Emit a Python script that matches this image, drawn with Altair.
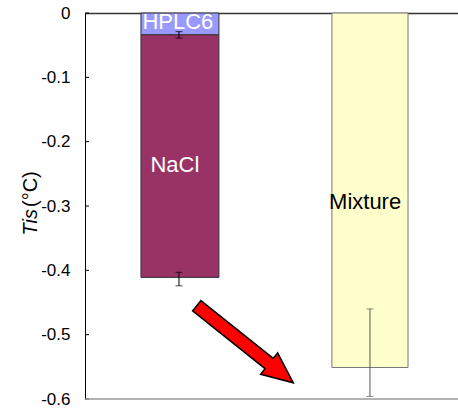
import altair as alt
import pandas as pd

FONT = "Liberation Sans"

# stacked bar segments (x in a 0..1 linear position scale)
segments = ["HPLC6", "NaCl", "Mixture"]
seg_x0 = [0.150, 0.150, 0.662]
seg_x1 = [0.359, 0.359, 0.866]
seg_top = [0.0, -0.034, 0.0]
seg_bottom = [-0.034, -0.411, -0.551]
seg_colors = ["#9999FF", "#993366", "#FFFFCC"]
seg_strokes = ["#333333", "#333333", "#777777"]

# error bars
err_group = ["HPLC6", "NaCl", "Mixture"]
err_x = [0.252, 0.252, 0.764]
err_lo = [-0.039, -0.424, -0.596]
err_hi = [-0.029, -0.403, -0.460]

# in-bar labels
lab_text = ["HPLC6", "NaCl", "Mixture"]
lab_x = [0.249, 0.241, 0.751]
lab_y = [-0.0135, -0.236, -0.294]

# arrow annotation (centre)
arrow_x = [0.429]
arrow_y = [-0.515]

yticks = [0, -0.1, -0.2, -0.3, -0.4, -0.5, -0.6]

seg_df = pd.DataFrame({"seg": segments, "x0": seg_x0, "x1": seg_x1,
                       "top": seg_top, "bottom": seg_bottom})
err_df = pd.DataFrame({"g": err_group, "x": err_x, "lo": err_lo, "hi": err_hi})
lab_df = pd.DataFrame({"t": lab_text, "x": lab_x, "y": lab_y})
arr_df = pd.DataFrame({"x": arrow_x, "y": arrow_y})
tick_df = pd.DataFrame({"v": yticks})

xs = alt.Scale(domain=[0, 1], nice=False, zero=False)
ys = alt.Scale(domain=[-0.6, 0], nice=False, zero=False)

bars = alt.Chart(seg_df).mark_bar(strokeWidth=1).encode(
    x=alt.X("x0:Q", scale=xs,
            axis=alt.Axis(orient="top", labels=False, ticks=False, title=None,
                          grid=False, domainColor="#333333", domainWidth=1.5)),
    x2="x1:Q",
    y=alt.Y("top:Q", scale=ys,
            axis=alt.Axis(values=yticks, labelExpr="toString(datum.value)",
                          ticks=False, grid=False, title=None,
                          domainColor="#000000", domainWidth=1,
                          labelFont=FONT, labelFontSize=17, labelColor="#000000",
                          labelPadding=15)),
    y2="bottom:Q",
    fill=alt.Fill("seg:N", scale=alt.Scale(domain=segments, range=seg_colors), legend=None),
    stroke=alt.Stroke("seg:N", scale=alt.Scale(domain=segments, range=seg_strokes), legend=None),
)

inner_ticks = alt.Chart(tick_df).mark_rule(color="#000000", strokeWidth=1).encode(
    y=alt.Y("v:Q", scale=ys), x=alt.value(0), x2=alt.value(4)
)

bottom_line = alt.Chart(pd.DataFrame({"v": [-0.6]})).mark_rule(color="#999999", strokeWidth=1.5).encode(
    y=alt.Y("v:Q", scale=ys), x=alt.value(0), x2=alt.value(373)
)


def err_layers(group_filter, col):
    base = alt.Chart(err_df).transform_filter(group_filter)
    r = base.mark_rule(strokeWidth=1, color=col).encode(
        x=alt.X("x:Q", scale=xs), y=alt.Y("lo:Q", scale=ys), y2="hi:Q")
    c1 = base.mark_tick(orient="horizontal", size=7, thickness=1, color=col).encode(
        x=alt.X("x:Q", scale=xs), y=alt.Y("lo:Q", scale=ys))
    c2 = base.mark_tick(orient="horizontal", size=7, thickness=1, color=col).encode(
        x=alt.X("x:Q", scale=xs), y=alt.Y("hi:Q", scale=ys))
    return [r, c1, c2]


err_dark = err_layers("datum.g != 'Mixture'", "#000000")
err_grey = err_layers("datum.g == 'Mixture'", "#555555")

labels_white = alt.Chart(lab_df).transform_filter("datum.t != 'Mixture'").mark_text(
    font=FONT, fontSize=22, baseline="middle", align="center", color="#FFFFFF").encode(
    x=alt.X("x:Q", scale=xs), y=alt.Y("y:Q", scale=ys), text="t:N")
labels_black = alt.Chart(lab_df).transform_filter("datum.t == 'Mixture'").mark_text(
    font=FONT, fontSize=22, baseline="middle", align="center", color="#000000").encode(
    x=alt.X("x:Q", scale=xs), y=alt.Y("y:Q", scale=ys), text="t:N")

arrow_path = ("M -1 -0.107 L 0.5 -0.107 L 0.5 -0.22 L 1 0 L 0.5 0.22 "
              "L 0.5 0.107 L -1 0.107 Z")
arrow = alt.Chart(arr_df).mark_point(shape=arrow_path, filled=True, fill="#FF0000",
                                     stroke="#000000", strokeWidth=1.5, opacity=1,
                                     fillOpacity=1, size=15252, angle=38.6).encode(
    x=alt.X("x:Q", scale=xs), y=alt.Y("y:Q", scale=ys)
)

title_df = pd.DataFrame({"a": [0]})
title_it = alt.Chart(title_df).mark_text(text="Tis", font=FONT, fontSize=20, fontStyle="italic",
                                         angle=270, align="right", baseline="middle",
                                         color="#000000").encode(
    x=alt.value(-54), y=alt.value(196)
)
title_unit = alt.Chart(title_df).mark_text(text="(°C)", font=FONT, fontSize=20,
                                           angle=270, align="left", baseline="middle",
                                           color="#000000").encode(
    x=alt.value(-54), y=alt.value(194)
)

chart = alt.layer(bars, inner_ticks, bottom_line, *err_dark, *err_grey,
                  labels_white, labels_black, arrow,
                  title_it, title_unit).properties(
    width=373, height=386,
    padding={"left": 85, "top": 13, "right": 0, "bottom": 13},
    autosize=alt.AutoSizeParams(type="none"),
    background="#FFFFFF",
).configure_view(stroke=None)

chart.save("out.html", embed_options={"renderer": "svg", "actions": False})
